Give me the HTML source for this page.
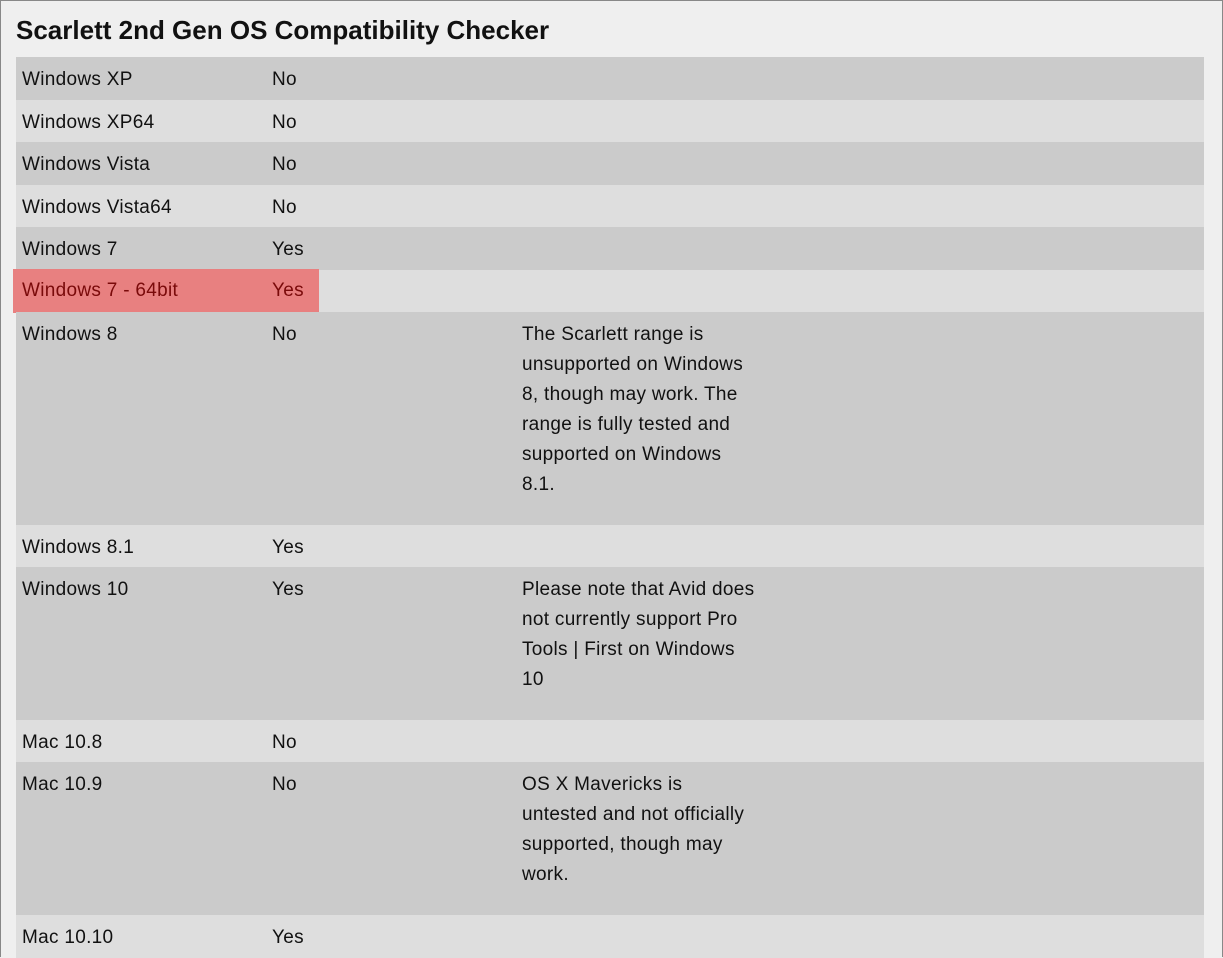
<!DOCTYPE html>
<html><head><style>
body{margin:0;width:1223px;height:958px;overflow:hidden;background:#efefef;font-family:"Liberation Sans",Arial,sans-serif;position:relative}
.frame{position:absolute;left:0;top:0;width:1221px;height:956px;border:1px solid #888;border-bottom:none;box-sizing:content-box}
h1{position:absolute;left:16px;top:15px;margin:0;font-size:26px;font-weight:bold;color:#111;letter-spacing:0px}
.row{position:absolute;left:16px;width:1188px;font-size:19px;color:#111;letter-spacing:0.3px}
.row div{position:absolute;top:8px;line-height:30px;white-space:nowrap}
.a{left:6px}.b{left:256px}.c{left:506px}
.d{background:#cbcbcb}.l{background:#dedede}
.hl{position:absolute;left:13px;top:269px;width:306px;height:44px;background:#e88080;letter-spacing:0.3px}
.hl span{position:absolute;top:7px;line-height:30px;font-size:19px;color:#7a0a0a}
</style></head><body>
<div class="frame"></div>
<h1>Scarlett 2nd Gen OS Compatibility Checker</h1>
<div class="row d" style="top:57px;height:43px"><div class="a">Windows XP</div><div class="b">No</div></div>
<div class="row l" style="top:100px;height:42px"><div class="a">Windows XP64</div><div class="b">No</div></div>
<div class="row d" style="top:142px;height:43px"><div class="a">Windows Vista</div><div class="b">No</div></div>
<div class="row l" style="top:185px;height:42px"><div class="a">Windows Vista64</div><div class="b">No</div></div>
<div class="row d" style="top:227px;height:43px"><div class="a">Windows 7</div><div class="b">Yes</div></div>
<div class="row l" style="top:270px;height:42px"></div>
<div class="hl"><span style="left:9px">Windows 7 - 64bit</span><span style="left:259px">Yes</span></div>
<div class="row d" style="top:312px;height:213px"><div class="a">Windows 8</div><div class="b">No</div><div class="c">The Scarlett range is<br>unsupported on Windows<br>8, though may work. The<br>range is fully tested and<br>supported on Windows<br>8.1.</div></div>
<div class="row l" style="top:525px;height:42px"><div class="a">Windows 8.1</div><div class="b">Yes</div></div>
<div class="row d" style="top:567px;height:153px"><div class="a">Windows 10</div><div class="b">Yes</div><div class="c">Please note that Avid does<br>not currently support Pro<br>Tools | First on Windows<br>10</div></div>
<div class="row l" style="top:720px;height:42px"><div class="a">Mac 10.8</div><div class="b">No</div></div>
<div class="row d" style="top:762px;height:153px"><div class="a">Mac 10.9</div><div class="b">No</div><div class="c">OS X Mavericks is<br>untested and not officially<br>supported, though may<br>work.</div></div>
<div class="row l" style="top:915px;height:43px"><div class="a">Mac 10.10</div><div class="b">Yes</div></div>
</body></html>
